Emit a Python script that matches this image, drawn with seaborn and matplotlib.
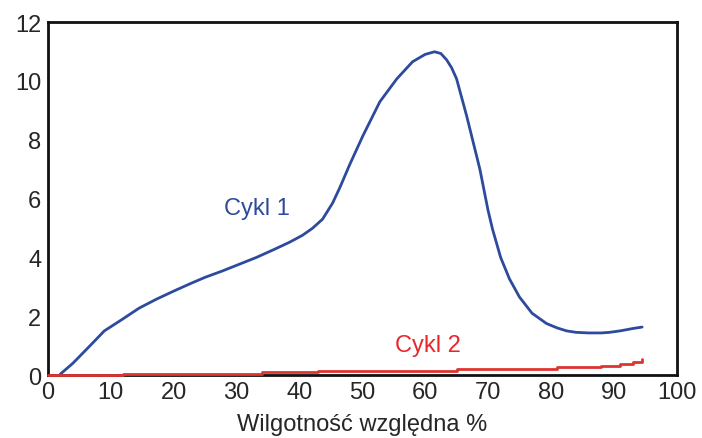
import numpy as np
import pandas as pd
import matplotlib.pyplot as plt
import seaborn as sns
from matplotlib.ticker import MultipleLocator

# values
rh_c1 = [2, 4, 6.7, 9, 11.9, 14.5, 17.3, 20, 22.6, 25, 27.8, 30.5, 33.2, 36, 38.5, 40.5, 42.1, 43.7,
         45.3, 46.5, 48, 50.1, 52.8, 55.5, 58, 60, 61.5, 62.5, 63.4, 64.2, 65, 66.6, 68.7, 70, 70.7, 72,
         73.4, 75, 77, 79.3, 81, 82.5, 84, 86, 88, 89.3, 91, 93, 94.5]
val_c1 = [0.03, 0.4, 0.99, 1.5, 1.9, 2.27, 2.58, 2.85, 3.1, 3.32, 3.54, 3.77, 4.0, 4.27, 4.52, 4.75, 4.99, 5.3,
          5.85, 6.4, 7.15, 8.13, 9.29, 10.07, 10.65, 10.9, 10.99, 10.93, 10.72, 10.45, 10.07, 8.81, 7.0, 5.6, 4.97, 4.0,
          3.27, 2.65, 2.1, 1.75, 1.6, 1.5, 1.45, 1.43, 1.43, 1.45, 1.5, 1.58, 1.63]

rh_c2 = [0, 12, 34, 43, 65, 81, 88, 91, 93, 94.5]
val_c2 = [0.0, 0.03, 0.1, 0.15, 0.2, 0.27, 0.3, 0.37, 0.45, 0.54]

x_ticks = [0, 10, 20, 30, 40, 50, 60, 70, 80, 90, 100]
y_ticks = [0, 2, 4, 6, 8, 10, 12]
x_label = "Wilgotność względna %"
labels = ["Cykl 1", "Cykl 2"]

blue = "#2d4a9d"
red = "#de3430"

sns.set_style("white")
plt.rcParams['font.family'] = ['Liberation Sans', 'DejaVu Sans']

fig = plt.figure(figsize=(7.02, 4.39), dpi=100)
ax = fig.add_axes([0.068, 0.1435, 0.896, 0.804])

df1 = pd.DataFrame({"rh": rh_c1, "val": val_c1})
df2 = pd.DataFrame({"rh": rh_c2, "val": val_c2})
sns.lineplot(data=df1, x="rh", y="val", ax=ax, color=blue, lw=2, clip_on=False, zorder=5)
sns.lineplot(data=df2, x="rh", y="val", ax=ax, color=red, lw=2, drawstyle="steps-post",
             clip_on=False, zorder=6)

ax.text(33.2, 5.68, labels[0], color=blue, fontsize=17, ha="center", va="center")
ax.text(60.4, 1.02, labels[1], color="#e8262b", fontsize=17, ha="center", va="center")

ax.set_xlim(0, 100)
ax.set_ylim(0, 12)
ax.set_xticks(x_ticks)
ax.set_yticks(y_ticks)
ax.xaxis.set_minor_locator(MultipleLocator(2))
ax.yaxis.set_minor_locator(MultipleLocator(0.4))
ax.tick_params(which="major", direction="inout", length=5, width=1.5, labelsize=17, pad=2)
ax.tick_params(which="minor", direction="inout", length=3, width=1.2)
ax.set_xlabel(x_label, fontsize=17, labelpad=7)
ax.set_ylabel("")
for s in ax.spines.values():
    s.set_linewidth(2)
    s.set_color("#111111")

fig.savefig("out.png", dpi=100)
